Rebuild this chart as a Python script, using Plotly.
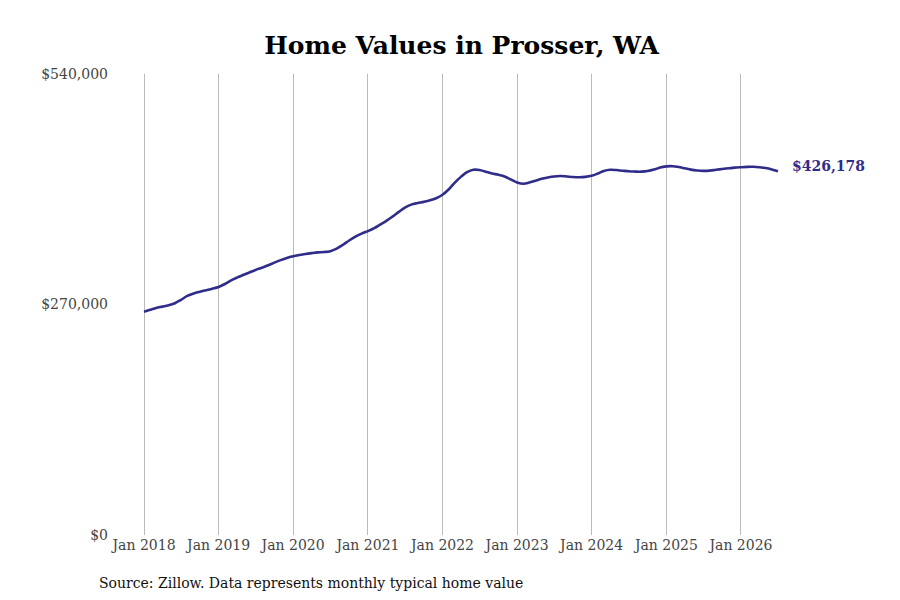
import pandas as pd
import plotly.graph_objects as go

# monthly typical home value, Jan 2018 - Jul 2026
months = pd.date_range('2018-01-01', '2026-07-01', freq='MS')
values = [
    261600, 263800, 266000, 267500, 269000, 271500, 275500, 280000, 283000, 285000, 286800, 288500,
    290500, 294000, 298000, 301500, 304500, 307500, 310500, 313000, 316000, 319000, 322000, 324500,
    326500, 328000, 329200, 330200, 331000, 331500, 332500, 335500, 340000, 345000, 349500, 353000,
    356000, 359500, 363500, 368000, 373000, 378500, 383500, 387000, 388800, 390200, 392000, 394500,
    398500, 405000, 412500, 419500, 425000, 427800, 427500, 425500, 423500, 422000, 420000, 416500,
    413000, 411500, 412800, 415000, 417200, 418800, 420000, 420500, 420000, 419300, 419000, 419500,
    420800, 423500, 426500, 427800, 427500, 426700, 426000, 425700, 425600, 426300, 428000, 430500,
    431800, 432000, 431000, 429500, 428000, 427000, 426500, 426800, 427800, 428700, 429500, 430300,
    430800, 431200, 431300, 430800, 429800, 428200, 426178,
]
tick_dates = pd.date_range('2018-01-01', '2026-01-01', freq='YS')
tick_labels = ['Jan ' + str(d.year) for d in tick_dates]
y_ticks = [0, 270000, 540000]
y_labels = ['$0', '$270,000', '$540,000']

line_color = '#2f2c8a'
font = 'DejaVu Serif'

fig = go.Figure()
fig.add_trace(go.Scatter(x=months, y=values, mode='lines',
                         line=dict(color=line_color, width=2.6, shape='spline'),
                         hoverinfo='skip'))

fig.add_annotation(x=months[-1], y=values[-1], text='<b>$' + format(values[-1], ',') + '</b>',
                   showarrow=False, xanchor='left', xshift=12, yshift=5,
                   font=dict(family=font, size=14, color=line_color))
fig.add_annotation(x=-0.027, y=-0.104, xref='paper', yref='paper',
                   text='Source: Zillow. Data represents monthly typical home value',
                   showarrow=False, xanchor='left', yanchor='middle',
                   font=dict(family=font, size=14, color='#111111'))

fig.update_layout(
    width=900, height=600,
    margin=dict(l=107, r=128, t=66, b=73),
    paper_bgcolor='white', plot_bgcolor='white',
    showlegend=False,
    font=dict(family=font, size=14, color='#444444'),
    title=dict(text='<b>Home Values in Prosser, WA</b>', x=0.504, xanchor='center',
               yref='container', y=0.938, yanchor='middle',
               font=dict(family=font, size=25, color='#000000')),
    xaxis=dict(range=['2017-08-12', '2026-07-11'], tickvals=tick_dates, ticktext=tick_labels,
               showgrid=True, gridcolor='#bbbbbb', gridwidth=1, showline=False,
               zeroline=False, ticks=''),
    yaxis=dict(range=[0, 540000], tickvals=y_ticks, ticktext=y_labels,
               showgrid=False, zeroline=False, showline=False, ticks='',
               ticklabelstandoff=6),
)

fig.write_html('out.html')
